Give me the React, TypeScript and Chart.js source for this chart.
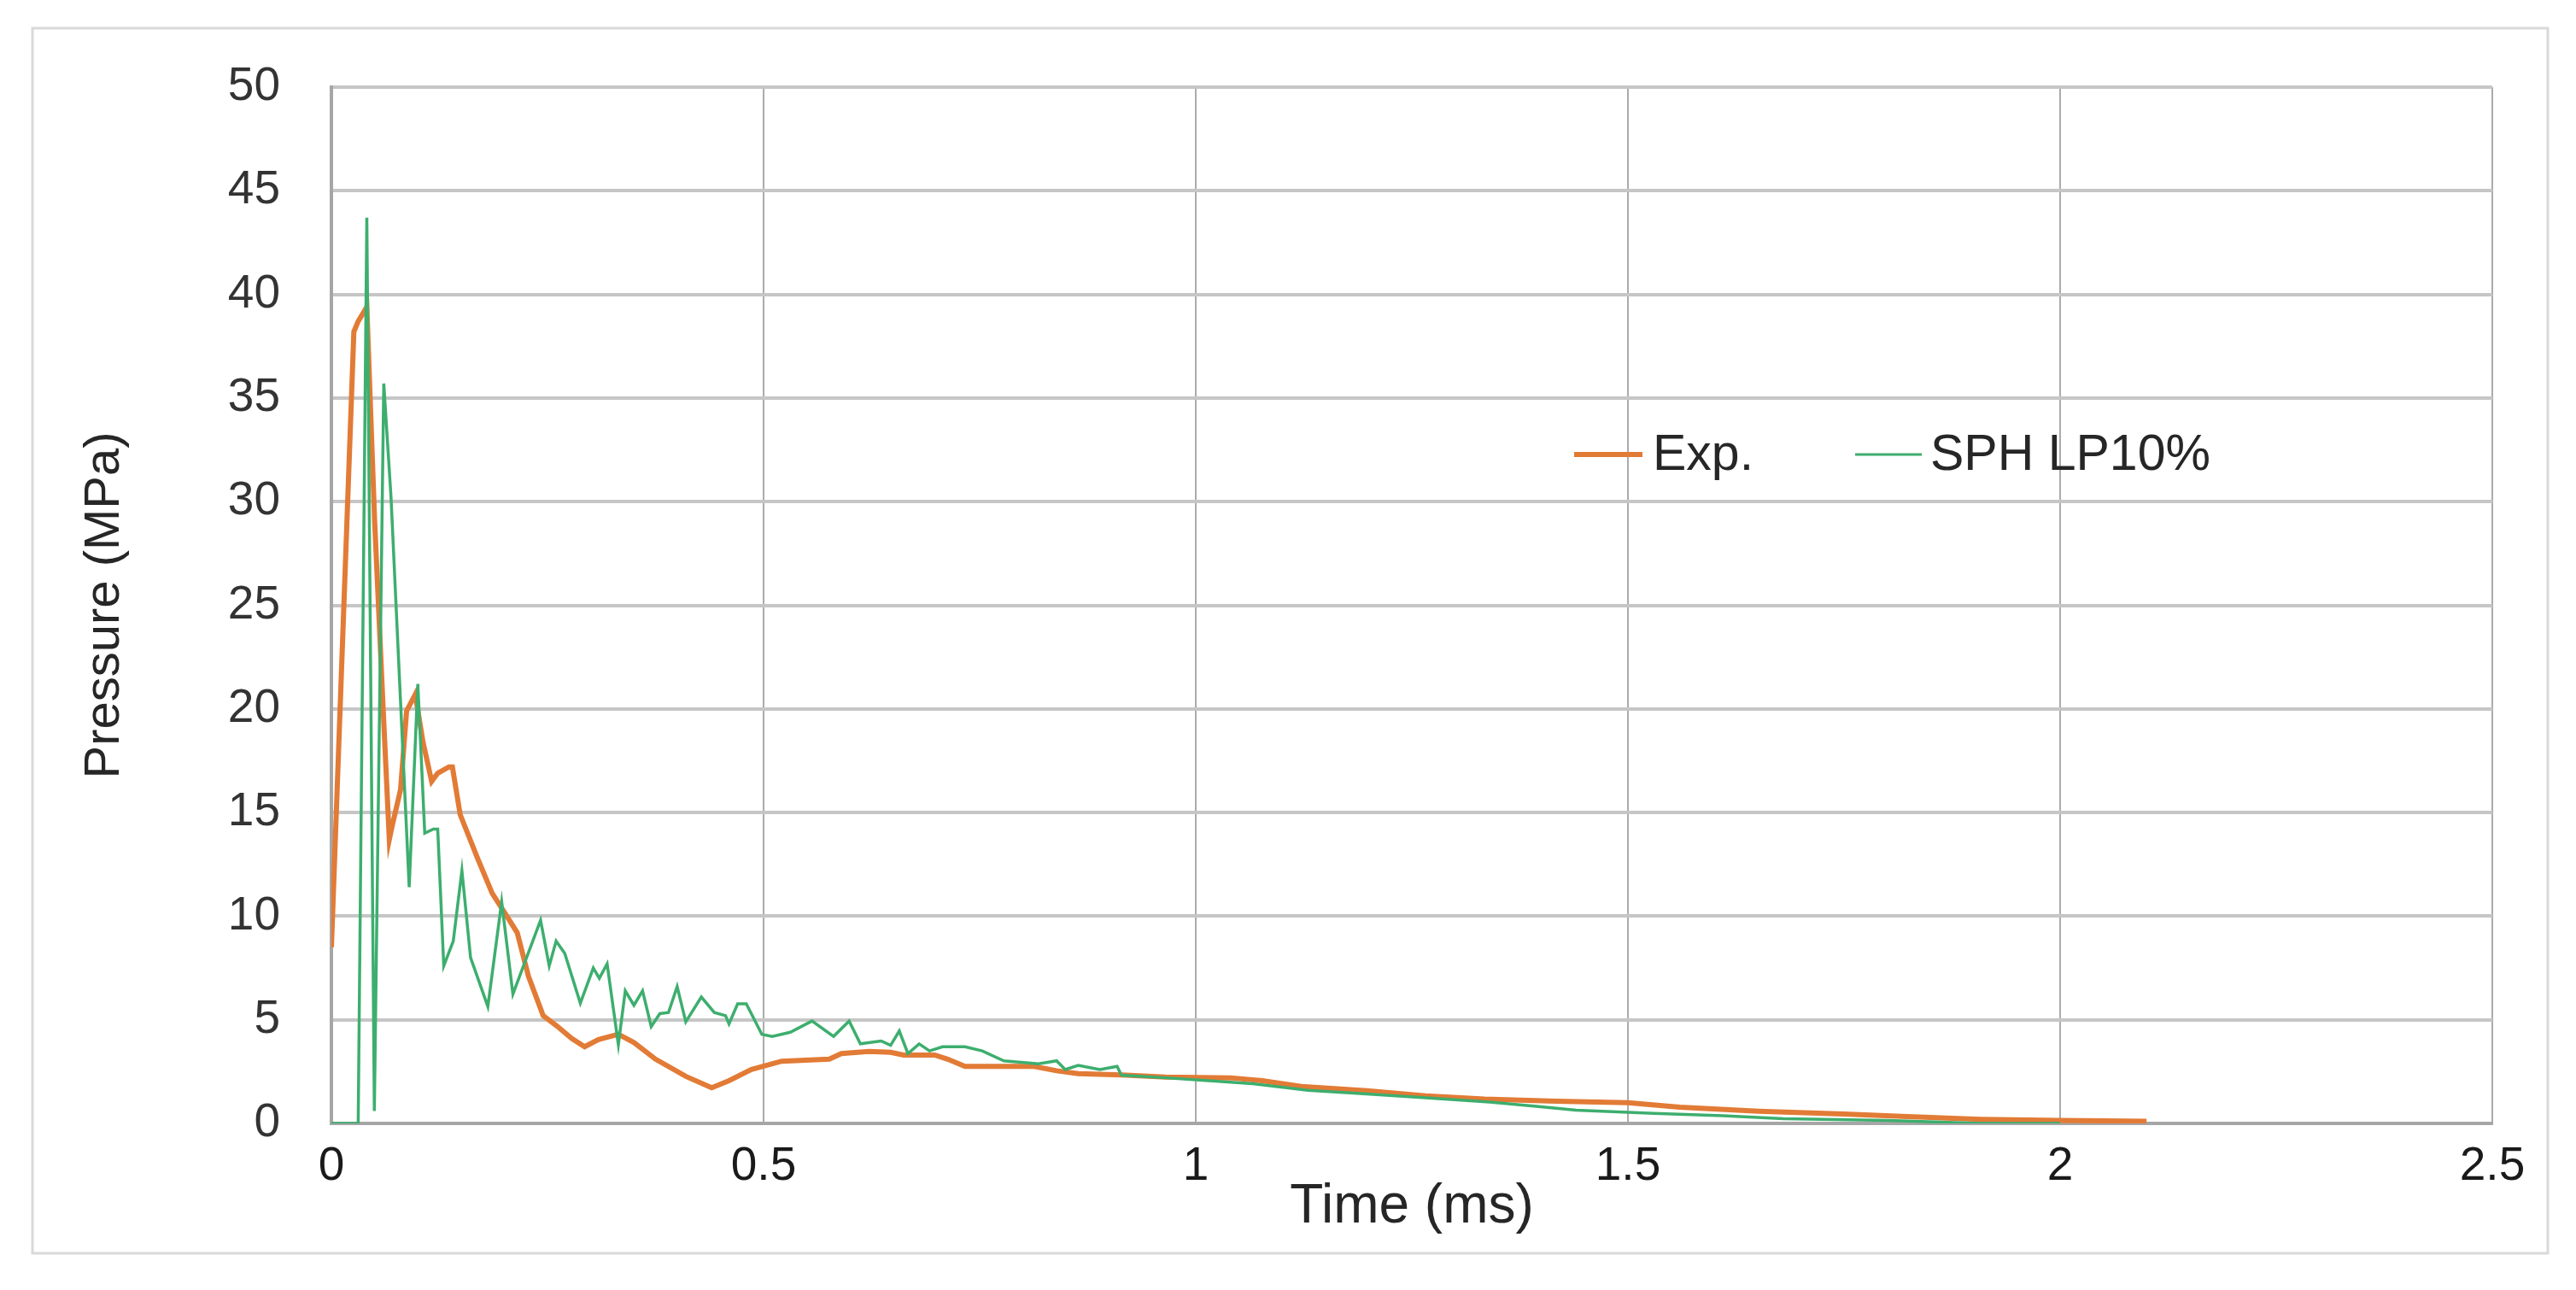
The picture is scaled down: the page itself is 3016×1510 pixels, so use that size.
import React, { useEffect, useRef } from "react";
import { Chart, registerables } from "chart.js";

Chart.register(...registerables);

const xTitle = "Time (ms)";
const yTitle = "Pressure (MPa)";
const seriesNames = ["Exp.", "SPH LP10%"];
const seriesColors = ["#E27B36", "#3DAE6E"];

const expTime = [
  0, 0.026, 0.031, 0.041, 0.05, 0.06, 0.067, 0.07, 0.08, 0.087, 0.097, 0.106, 0.116, 0.123, 0.136,
  0.14, 0.149, 0.169, 0.186, 0.2, 0.215, 0.228, 0.245, 0.261, 0.278, 0.293, 0.309, 0.332, 0.35,
  0.375, 0.41, 0.44, 0.46, 0.486, 0.521, 0.576, 0.59, 0.622, 0.647, 0.662, 0.698, 0.713, 0.733,
  0.783, 0.813, 0.839, 0.864, 0.914, 0.965, 1.04, 1.077, 1.122, 1.198, 1.266, 1.334, 1.417, 1.5,
  1.56, 1.651, 1.75, 1.817, 1.908, 2.0, 2.1,
];
const expPressure = [
  8.5, 38.2, 38.7, 39.4, 29.1, 19.9, 13.7, 14.3, 16.1, 19.9, 20.7, 18.4, 16.5, 16.9, 17.2, 17.2,
  14.9, 12.8, 11.1, 10.2, 9.2, 7.1, 5.2, 4.7, 4.1, 3.7, 4.05, 4.3, 3.9, 3.1, 2.27, 1.72, 2.06, 2.6,
  3.0, 3.1, 3.37, 3.47, 3.43, 3.3, 3.3, 3.1, 2.75, 2.75, 2.75, 2.54, 2.4, 2.34, 2.24, 2.2, 2.06,
  1.78, 1.58, 1.33, 1.17, 1.07, 1.0, 0.78, 0.59, 0.45, 0.34, 0.2, 0.14, 0.1,
];

const sphTime = [
  0, 0.031, 0.041, 0.0497, 0.0606, 0.069, 0.09, 0.1, 0.108, 0.118, 0.123, 0.13, 0.141, 0.151,
  0.161, 0.181, 0.197, 0.21, 0.242, 0.252, 0.26, 0.27, 0.288, 0.303, 0.31, 0.319, 0.332, 0.34,
  0.35, 0.36, 0.37, 0.38, 0.39, 0.4, 0.41, 0.428, 0.443, 0.456, 0.46, 0.47, 0.48, 0.498, 0.51,
  0.531, 0.556, 0.581, 0.599, 0.612, 0.636, 0.647, 0.657, 0.667, 0.68, 0.692, 0.707, 0.733, 0.753,
  0.778, 0.798, 0.818, 0.839, 0.849, 0.864, 0.889, 0.909, 0.914, 0.965, 1.015, 1.066, 1.13, 1.19,
  1.266, 1.34, 1.394, 1.44, 1.53, 1.61, 1.68, 1.8, 1.91, 2.0,
];
const sphPressure = [
  0, 0, 43.7, 0.6, 35.7, 30.2, 11.4, 21.2, 14.0, 14.2, 14.2, 7.6, 8.8, 12.2, 8.0, 5.64, 10.7, 6.24,
  9.8, 7.6, 8.8, 8.2, 5.8, 7.5, 7.0, 7.7, 3.8, 6.4, 5.7, 6.4, 4.67, 5.3, 5.35, 6.6, 4.9, 6.1, 5.35,
  5.2, 4.8, 5.77, 5.77, 4.3, 4.2, 4.4, 4.94, 4.2, 4.94, 3.84, 3.98, 3.77, 4.46, 3.37, 3.84, 3.5,
  3.7, 3.7, 3.5, 3.02, 2.95, 2.88, 3.02, 2.6, 2.8, 2.6, 2.75, 2.33, 2.2, 2.06, 1.92, 1.6, 1.44,
  1.24, 1.03, 0.82, 0.64, 0.48, 0.37, 0.23, 0.14, 0, 0,
];

const toPoints = (xs: number[], ys: number[]) => xs.map((x, i) => ({ x, y: ys[i] }));

const FONT = "'Liberation Sans', Arial, sans-serif";

export default function App() {
  const ref = useRef<HTMLCanvasElement>(null);

  useEffect(() => {
    if (!ref.current) return;

    const framePlugin = {
      id: "frame",
      beforeDraw(chart: any) {
        const ctx = chart.ctx;
        ctx.save();
        ctx.fillStyle = "#ffffff";
        ctx.fillRect(0, 0, chart.width, chart.height);
        ctx.strokeStyle = "#D9D9D9";
        ctx.lineWidth = 3;
        ctx.strokeRect(30, 25, 2945, 1434);
        ctx.restore();
      },
    };

    const legendPlugin = {
      id: "insideLegend",
      afterDatasetsDraw(chart: any) {
        const ctx = chart.ctx;
        const items = [
          { x0: 1835, x1: 1915, tx: 1927, w: 6 },
          { x0: 2164, x1: 2242, tx: 2252, w: 3 },
        ];
        const y = 524;
        ctx.save();
        chart.data.datasets.forEach((ds: any, i: number) => {
          const it = items[i];
          ctx.strokeStyle = ds.borderColor;
          ctx.lineWidth = it.w;
          ctx.beginPath();
          ctx.moveTo(it.x0, y);
          ctx.lineTo(it.x1, y);
          ctx.stroke();
          ctx.fillStyle = "#262626";
          ctx.font = `59px ${FONT}`;
          ctx.textAlign = "left";
          ctx.textBaseline = "middle";
          ctx.fillText(ds.label, it.tx, y + 2);
        });
        ctx.restore();
      },
    };

    const chart = new Chart(ref.current, {
      type: "line",
      data: {
        datasets: [
          {
            label: seriesNames[0],
            data: toPoints(expTime, expPressure),
            borderColor: seriesColors[0],
            backgroundColor: seriesColors[0],
            borderWidth: 6,
            pointRadius: 0,
            tension: 0,
            order: 2,
          },
          {
            label: seriesNames[1],
            data: toPoints(sphTime, sphPressure),
            borderColor: seriesColors[1],
            backgroundColor: seriesColors[1],
            borderWidth: 3.5,
            pointRadius: 0,
            tension: 0,
            order: 1,
          },
        ],
      },
      options: {
        animation: false,
        responsive: false,
        devicePixelRatio: 1,
        layout: { padding: { left: 30, right: 90, top: 94, bottom: 10 } },
        plugins: {
          legend: { display: false },
          tooltip: { enabled: false },
        },
        scales: {
          x: {
            type: "linear",
            min: 0,
            max: 2.5,
            ticks: {
              stepSize: 0.5,
              padding: 18,
              color: "#1A1A1A",
              font: { family: FONT, size: 55 },
              maxRotation: 0,
              callback: (v: any) => String(Number(v)),
            },
            grid: { color: "#ABABAB", lineWidth: 2, drawTicks: false },
            border: { color: "#A6A6A6", width: 4 },
            title: {
              display: true,
              text: xTitle,
              color: "#262626",
              font: { family: FONT, size: 64, lineHeight: 1 },
              padding: { top: 0, bottom: 47 },
            },
            afterFit: (s: any) => {
              s.height = 177;
            },
          },
          y: {
            type: "linear",
            min: 0,
            max: 50,
            ticks: {
              stepSize: 5,
              padding: 60,
              color: "#333333",
              font: { family: FONT, size: 55 },
            },
            grid: { color: "#C6C6C6", lineWidth: 4, drawTicks: false },
            border: { color: "#A6A6A6", width: 4 },
            title: {
              display: true,
              text: yTitle,
              color: "#262626",
              font: { family: FONT, size: 58, lineHeight: 1 },
              padding: { top: 56, bottom: 0 },
            },
            afterFit: (s: any) => {
              s.width = 350;
            },
          },
        },
      },
      plugins: [framePlugin, legendPlugin],
    });

    return () => chart.destroy();
  }, []);

  return (
    <div style={{ width: 3000, height: 1494 }}>
      <canvas ref={ref} width={3000} height={1494} style={{ display: "block" }} />
    </div>
  );
}
